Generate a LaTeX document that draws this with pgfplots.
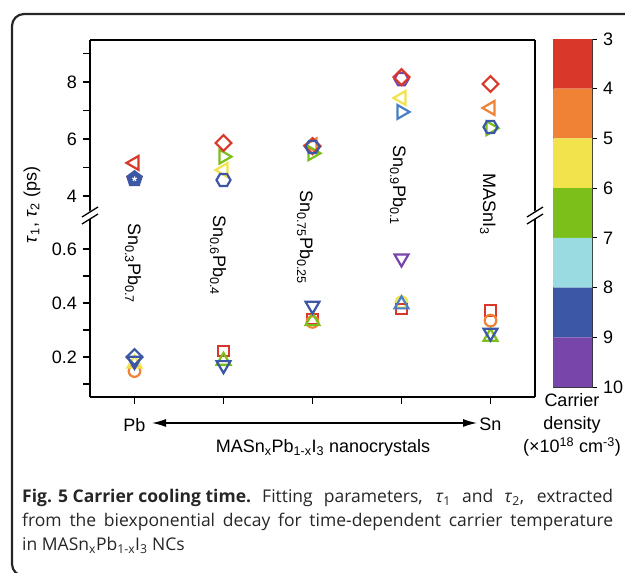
\documentclass[border=0pt]{standalone}
\usepackage{fontspec}
\setmainfont{Liberation Sans}
\newfontfamily\capfont{Open Sans}
\usepackage{pgfplots}
\pgfplotsset{compat=1.18}
\usetikzlibrary{plotmarks,arrows.meta}
\definecolor{cA}{HTML}{D9372A}
\definecolor{cB}{HTML}{EF8235}
\definecolor{cC}{HTML}{F2E24C}
\definecolor{cD}{HTML}{7CBF1A}
\definecolor{cE}{HTML}{99DBE1}
\definecolor{cF}{HTML}{3B57A6}
\definecolor{cG}{HTML}{7846AB}
\definecolor{cM}{HTML}{4A7EC6}
\pgfdeclareplotmark{hexagon}{%
  \pgfpathmoveto{\pgfqpointpolar{0}{\pgfplotmarksize}}%
  \pgfpathlineto{\pgfqpointpolar{60}{\pgfplotmarksize}}%
  \pgfpathlineto{\pgfqpointpolar{120}{\pgfplotmarksize}}%
  \pgfpathlineto{\pgfqpointpolar{180}{\pgfplotmarksize}}%
  \pgfpathlineto{\pgfqpointpolar{240}{\pgfplotmarksize}}%
  \pgfpathlineto{\pgfqpointpolar{300}{\pgfplotmarksize}}%
  \pgfpathclose
  \pgfusepathqstroke}
\pgfplotsset{
  brk/.style={scale only axis, width=445pt, xmin=-0.5, xmax=4.5,
    axis line style={line width=1.3pt, black},
    tick style={line width=1.3pt, black},
    tick align=outside, major tick length=7pt, minor tick length=7pt,
    tick label style={font=\fontsize{18}{21}\selectfont},
    /pgf/number format/assume math mode=true,
    every axis plot/.append style={only marks, line width=2.2pt}},
  tl/.style={mark=triangle, mark size=8pt, mark options={rotate=90}},
  tr/.style={mark=triangle, mark size=8pt, mark options={rotate=-90}},
  tu/.style={mark=triangle, mark size=8pt},
  td/.style={mark=triangle, mark size=8pt, mark options={rotate=180}},
  dm/.style={mark=square, mark size=5.6pt, mark options={rotate=45}},
  hx/.style={mark=hexagon, mark size=7pt},
  ci/.style={mark=o, mark size=5.8pt},
  sq/.style={mark=square, mark size=5.3pt},
}
\begin{document}
\fontsize{18}{21}\selectfont
\begin{tikzpicture}
\useasboundingbox (0,0) rectangle (625pt,573pt);
% frame
\draw[line width=2.2pt, black!85, rounded corners=12pt] (700pt,559pt) -- (12pt,559pt) -- (12pt,-3pt) -- (700pt,-3pt);

% upper axis (tau1)
\begin{axis}[brk, at={(90pt,358pt)}, anchor=south west, height=175pt,
  ymin=3.333, ymax=9.474, axis x line*=top, axis y line*=box,
  xtick=\empty, ytick={4,6,8}, minor ytick={5,7,9}, ytick pos=left]
\addplot[cB, tl] coordinates {(2,5.78) (4,7.09)};
\addplot[cD, tr] coordinates {(1,5.38) (2,5.50) (4,6.38)};
\addplot[cC, tl] coordinates {(1,4.91) (3,7.44)};
\addplot[cG, hx] coordinates {(3,8.10)};
\addplot[cA, dm] coordinates {(1,5.86) (2,5.75) (3,8.17) (4,7.93)};
\addplot[cF, hx] coordinates {(1,4.56) (2,5.72) (4,6.42)};
\addplot[cM, tr] coordinates {(3,6.95)};
\addplot[cA, tl] coordinates {(0,5.16)};
\addplot[cB, mark=star, mark size=8.5pt, line width=2pt] coordinates {(0,4.60)};
\addplot[cF, mark=pentagon*, mark size=7.5pt, mark options={fill=cF}] coordinates {(0,4.60)};
\addplot[white, mark=star, mark size=2.6pt, line width=1pt] coordinates {(0,4.60)};
\end{axis}

% lower axis (tau2)
\begin{axis}[brk, at={(90pt,176pt)}, anchor=south west, height=182pt,
  ymin=0.052, ymax=0.726, axis x line*=bottom, axis y line*=box,
  xtick={0,1,2,3,4}, xticklabels={Pb,,,,Sn}, xtick pos=bottom,
  xticklabel style={yshift=-8pt},
  ytick={0.2,0.4,0.6}, minor ytick={0.1,0.3,0.5}, ytick pos=left,
  yticklabel style={/pgf/number format/fixed, /pgf/number format/precision=1}]
\addplot[cC, ci] coordinates {(3,0.403)};
\addplot[cA, sq] coordinates {(1,0.222) (2,0.340) (3,0.378) (4,0.372)};
\addplot[cB, ci] coordinates {(0,0.148) (2,0.330) (4,0.335)};
\addplot[cC, tu] coordinates {(0,0.176)};
\addplot[cD, tu] coordinates {(1,0.186) (2,0.333) (4,0.275)};
\addplot[cF, td] coordinates {(0,0.186) (1,0.170) (2,0.390) (4,0.290)};
\addplot[cF, dm] coordinates {(0,0.200)};
\addplot[cM, tu] coordinates {(3,0.395)};
\addplot[cG, td] coordinates {(3,0.565)};
\end{axis}

% axis breaks
\foreach \bx in {90,535} {
  \fill[white] (\bx pt-7pt,350pt) -- (\bx pt+7pt,358pt) -- (\bx pt+7pt,366pt) -- (\bx pt-7pt,358pt) -- cycle;
  \draw[line width=1.3pt] (\bx pt-8pt,349pt) -- (\bx pt+8pt,359pt);
  \draw[line width=1.3pt] (\bx pt-8pt,356pt) -- (\bx pt+8pt,366pt);
}

% composition labels
\begin{scope}[every node/.style={rotate=-90, anchor=base west, inner sep=0pt}]
\node at (128pt,350pt) {Sn\textsubscript{0.3}Pb\textsubscript{0.7}};
\node at (213pt,358pt) {Sn\textsubscript{0.6}Pb\textsubscript{0.4}};
\node at (300pt,383pt) {Sn\textsubscript{0.75}Pb\textsubscript{0.25}};
\node at (393pt,428pt) {Sn\textsubscript{0.9}Pb\textsubscript{0.1}};
\node at (483pt,400pt) {MASnI\textsubscript{3}};
\end{scope}

% y label
\node[rotate=90] at (32pt,368pt) {\textit{τ}\textsubscript{1}, \textit{τ}\textsubscript{2} (ps)};

% x composition arrow and label
\draw[line width=1.3pt, {Latex[length=14pt,width=8pt]}-{Latex[length=14pt,width=8pt]}] (152pt,150pt) -- (477pt,150pt);
\node[anchor=base] at (323pt,120pt) {MASn\textsubscript{x}Pb\textsubscript{1-x}I\textsubscript{3} nanocrystals};

% colour bar
\begin{axis}[scale only axis, at={(553pt,186pt)}, anchor=south west, width=39pt, height=348pt,
  xmin=0, xmax=1, ymin=3, ymax=10, y dir=reverse, xtick=\empty,
  ytick={3,4,5,6,7,8,9,10}, ytick pos=right, yticklabel pos=right,
  tick align=outside, major tick length=5pt,
  axis line style={line width=0.8pt, black!80}, tick style={line width=0.8pt, black},
  tick label style={font=\fontsize{18}{21}\selectfont},
  /pgf/number format/assume math mode=true]
\addplot[draw=none, fill=cA] coordinates {(0,3) (1,3) (1,4) (0,4) (0,3)};
\addplot[draw=none, fill=cB] coordinates {(0,4) (1,4) (1,5) (0,5) (0,4)};
\addplot[draw=none, fill=cC] coordinates {(0,5) (1,5) (1,6) (0,6) (0,5)};
\addplot[draw=none, fill=cD] coordinates {(0,6) (1,6) (1,7) (0,7) (0,6)};
\addplot[draw=none, fill=cE] coordinates {(0,7) (1,7) (1,8) (0,8) (0,7)};
\addplot[draw=none, fill=cF] coordinates {(0,8) (1,8) (1,9) (0,9) (0,8)};
\addplot[draw=none, fill=cG] coordinates {(0,9) (1,9) (1,10) (0,10) (0,9)};
\end{axis}
\node[anchor=base] at (572pt,166pt) {Carrier};
\node[anchor=base] at (572pt,143pt) {density};
\node[anchor=base] at (572pt,120pt) {(×10\textsuperscript{18} cm\textsuperscript{-3})};

% caption
\begin{scope}[every node/.style={anchor=base west, inner sep=0pt, text=black!85, font=\capfont\fontsize{17.5}{20}\selectfont}]
\node at (22pt,70pt) {\makebox[591pt][s]{\mbox{\textbf{Fig. 5 Carrier cooling time.}} Fitting parameters, \textit{τ}\textsubscript{1} and \textit{τ}\textsubscript{2}, extracted}};
\node at (22pt,46pt) {\makebox[591pt][s]{from the biexponential decay for time-dependent carrier temperature}};
\node at (22pt,22pt) {in MASn\textsubscript{x}Pb\textsubscript{1-x}I\textsubscript{3} NCs};
\end{scope}
\end{tikzpicture}
\end{document}
